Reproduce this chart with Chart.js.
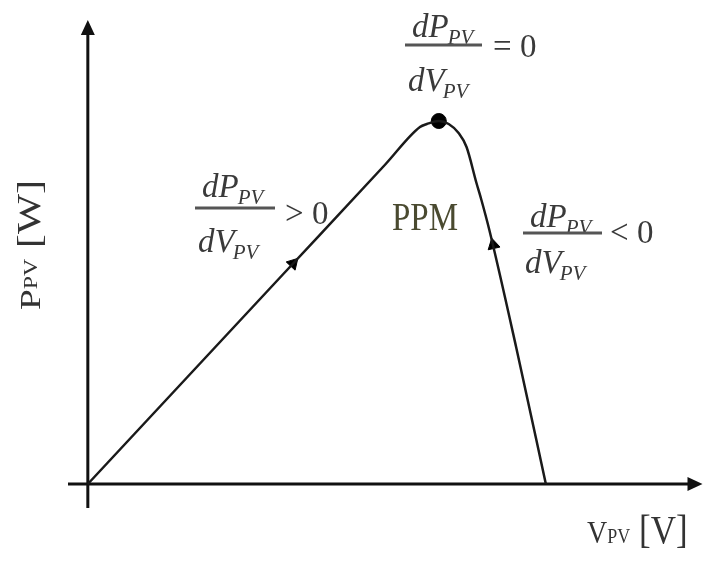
<!DOCTYPE html>
<html>
<head>
<meta charset="utf-8">
<script src="https://cdn.jsdelivr.net/npm/chart.js@4.4.0/dist/chart.umd.min.js"></script>
<style>
html, body { margin: 0; padding: 0; background: #fff; }
</style>
</head>
<body>
<canvas id="pv" width="711" height="562"></canvas>
<script>
//curva P-V (unidades arbitrarias)
var v_pv = [0, 10, 20, 30, 33.5, 34.2, 35.4, 36.4, 37.4, 38.2, 39.2, 39.7, 40.5, 43.2, 46.2];
var p_pv = [0, 10.65, 21.3, 31.95, 35.7, 36.0, 36.3, 36.0, 35.1, 33.7, 30.1, 28.4, 25.4, 13.7, 0];

//ponto de potencia maxima
var ppm_v = [35.4];
var ppm_p = [36.3];

//setas sobre a curva (sentido do rastreamento)
var seta_v = [20.7, 40.9];
var seta_p = [22.05, 23.9];
var seta_rot = [43, -13];

//extensao dos eixos
var eixo_v = [-2, 62];
var eixo_p = [-2.4, 46.4];

var serif = '"Liberation Serif", "DejaVu Serif", serif';

function pontos(xs, ys){
    var out = [];
    xs.forEach(function(x, i){ out.push({x: x, y: ys[i]}); });
    return out;
}

function texto(ctx, str, x, y, font, sx, sy){
    ctx.save();
    ctx.translate(x, y);
    ctx.scale(sx, sy);
    ctx.font = font;
    ctx.fillText(str, 0, 0);
    ctx.restore();
}

//dP_PV / dV_PV com relacao ao lado
function fracao(ctx, barX, barY, barW, numX, numY, denX, denY, rel, relX, relY){
    ctx.fillStyle = '#3a3a3a';
    ctx.font = 'italic 33px ' + serif;
    var wd = ctx.measureText('dP').width;
    texto(ctx, 'dP', numX, numY, 'italic 33px ' + serif, 1, 1);
    texto(ctx, 'PV', numX + wd - 1, numY + 7, 'italic 21px ' + serif, 1, 1);
    ctx.font = 'italic 33px ' + serif;
    wd = ctx.measureText('dV').width;
    texto(ctx, 'dV', denX, denY, 'italic 33px ' + serif, 1, 1);
    texto(ctx, 'PV', denX + wd - 2, denY + 7, 'italic 21px ' + serif, 1, 1);

    ctx.fillStyle = '#555';
    ctx.fillRect(barX, barY - 1.5, barW, 3);

    ctx.fillStyle = '#3a3a3a';
    texto(ctx, rel, relX, relY, '33px ' + serif, 1, 1.05);
    texto(ctx, '0', relX + 27, relY, '33px ' + serif, 1, 1.05);
}

var eixos = {
    id: 'eixos',
    beforeDatasetsDraw: function(chart){
        var ctx = chart.ctx;
        var xs = chart.scales.x, ys = chart.scales.y;
        var x0 = xs.getPixelForValue(0), y0 = ys.getPixelForValue(0);
        var xa = xs.getPixelForValue(eixo_v[0]), xb = xs.getPixelForValue(eixo_v[1]);
        var ya = ys.getPixelForValue(eixo_p[0]), yb = ys.getPixelForValue(eixo_p[1]);
        ctx.save();
        ctx.strokeStyle = '#111';
        ctx.fillStyle = '#111';
        ctx.lineWidth = 3;
        ctx.beginPath();
        ctx.moveTo(x0, ya);
        ctx.lineTo(x0, yb + 12);
        ctx.moveTo(xa, y0);
        ctx.lineTo(xb - 12, y0);
        ctx.stroke();
        ctx.beginPath();
        ctx.moveTo(x0, yb);
        ctx.lineTo(x0 - 7, yb + 15);
        ctx.lineTo(x0 + 7, yb + 15);
        ctx.closePath();
        ctx.moveTo(xb, y0);
        ctx.lineTo(xb - 15, y0 - 7);
        ctx.lineTo(xb - 15, y0 + 7);
        ctx.closePath();
        ctx.fill();
        ctx.restore();
    },
    afterDraw: function(chart){
        var ctx = chart.ctx;
        ctx.save();
        ctx.textBaseline = 'alphabetic';

        fracao(ctx, 405, 45, 77, 412, 37, 408, 91, '=', 493, 57);
        fracao(ctx, 195, 208, 80, 202, 197, 198, 252, '>', 285, 224);
        fracao(ctx, 523, 233, 79, 530, 227, 525, 273, '<', 610, 243);

        ctx.fillStyle = '#4a4a30';
        texto(ctx, 'PPM', 392, 230, '33px ' + serif, 1, 1.2);

        //rotulo do eixo P
        ctx.fillStyle = '#333';
        ctx.save();
        ctx.translate(40, 310);
        ctx.rotate(-Math.PI / 2);
        ctx.scale(1.25, 1);
        ctx.font = '30px ' + serif;
        ctx.fillText('P', 0, 0);
        var w = ctx.measureText('P').width;
        ctx.font = '19px ' + serif;
        ctx.fillText('PV', w, -3);
        w += ctx.measureText('PV').width;
        ctx.font = '34px ' + serif;
        ctx.fillText(' [W]', w, 0);
        ctx.restore();

        //rotulo do eixo V
        ctx.save();
        ctx.translate(587, 543);
        ctx.scale(1, 1.15);
        ctx.font = '28px ' + serif;
        ctx.fillText('V', 0, 0);
        w = ctx.measureText('V').width;
        ctx.font = '18px ' + serif;
        ctx.fillText('PV', w, 0);
        w += ctx.measureText('PV').width;
        ctx.font = '35px ' + serif;
        ctx.fillText(' [V]', w, 0);
        ctx.restore();

        ctx.restore();
    }
};

var ctx = document.getElementById('pv').getContext('2d');

var grafico = new Chart(ctx, {
    type: 'scatter',
    data: {
        datasets: [{
            label: 'P-V',
            data: pontos(v_pv, p_pv),
            showLine: true,
            borderColor: '#1a1a1a',
            borderWidth: 2.5,
            pointRadius: 0,
            cubicInterpolationMode: 'monotone'
        }, {
            label: 'PPM',
            data: pontos(ppm_v, ppm_p),
            pointRadius: 7.5,
            backgroundColor: '#000',
            borderColor: '#000'
        }, {
            label: 'setas',
            data: pontos(seta_v, seta_p),
            pointStyle: 'triangle',
            pointRadius: 7,
            pointRotation: function(c){ return seta_rot[c.dataIndex]; },
            backgroundColor: '#000',
            borderColor: '#000',
            borderWidth: 1
        }]
    },
    options: {
        responsive: false,
        animation: false,
        devicePixelRatio: 1,
        layout: {
            padding: { left: 68, right: 3, top: 20, bottom: 54 }
        },
        plugins: {
            legend: { display: false },
            tooltip: { enabled: false }
        },
        scales: {
            x: { type: 'linear', min: eixo_v[0], max: eixo_v[1], display: false },
            y: { type: 'linear', min: eixo_p[0], max: eixo_p[1], display: false }
        }
    },
    plugins: [eixos]
});
</script>
</body>
</html>
